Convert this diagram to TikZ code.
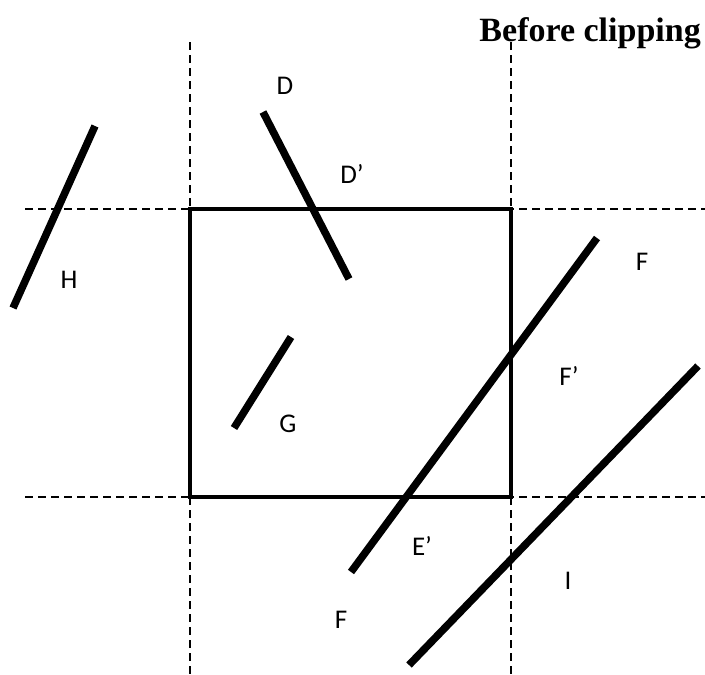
\documentclass[tikz,border=0pt]{standalone}
\usepackage{fontspec}
\setmainfont{Liberation Serif}
\newfontfamily\labelfont{Carlito}
\usepackage{tikz}
\usetikzlibrary{positioning}

\begin{document}
\begin{tikzpicture}[x=1pt,y=-1pt,
  guide/.style={dash pattern=on 8pt off 5pt,line width=1.2pt},
  seg/.style={line width=7.5pt},
  lbl/.style={font=\labelfont\fontsize{27}{32}\selectfont,inner sep=0pt}]
\useasboundingbox (0,0) rectangle (705,675);
\node[font=\bfseries\fontsize{34}{40}\selectfont,anchor=east,inner sep=0pt] (title) at (701,33) {Before clipping};
% window and its extended edges
\draw[guide] (190,42) -- (190,675);
\draw[guide] (511,42) -- (511,675);
\draw[guide] (25,209) -- (705,209);
\draw[guide] (25,497) -- (705,497);
\draw[line width=4pt] (190,209) rectangle (511,497);
% segments
\coordinate (h1) at (95,126);
\coordinate (h2) at (13,308);
\coordinate (d1) at (263,112);
\coordinate (d2) at (349,279);
\coordinate (g1) at (291,337);
\coordinate (g2) at (234,428);
\coordinate (f1) at (597,238);
\coordinate (e1) at (351,572);
\coordinate (i1) at (698,366);
\coordinate (i2) at (409,665);
\draw[seg] (h1) -- (h2);
\draw[seg] (d1) -- (d2);
\draw[seg] (g1) -- (g2);
\draw[seg] (f1) -- (e1);
\draw[seg] (i1) -- (i2);
% labels
\node[lbl] (lD) at (285,86) {D};
\node[lbl] (lDp) at (352,174) {D’};
\node[lbl] (lH) at (69,280) {H};
\node[lbl] (lF) at (642,262) {F};
\node[lbl] (lFp) at (569,376) {F’};
\node[lbl] (lG) at (288,424) {G};
\node[lbl] (lEp) at (422,546) {E’};
\node[lbl] (lF2) at (341,620) {F};
\node[lbl] (lI) at (568,581) {I};
\end{tikzpicture}
\end{document}
